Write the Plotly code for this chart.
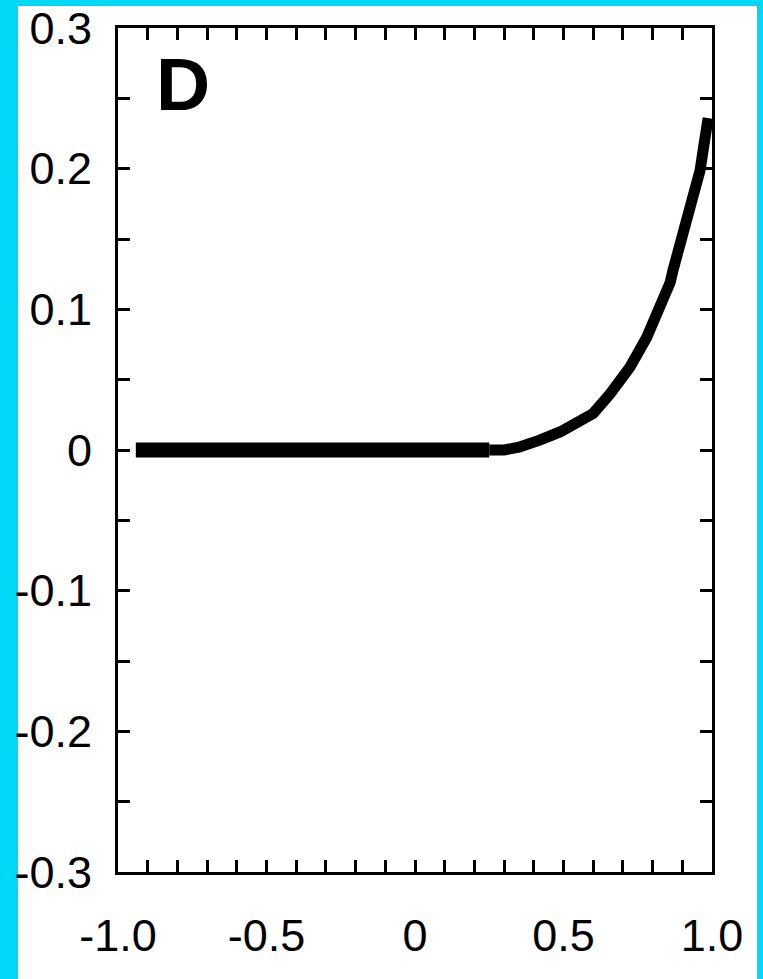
import plotly.graph_objects as go

# Data
flat_x = [-0.94, 0.25]
flat_y = [0.0, 0.0]
curve_x = [0.25, 0.30, 0.35, 0.387, 0.42, 0.49, 0.52, 0.60, 0.657, 0.724, 0.78, 0.825,
           0.859, 0.869, 0.892, 0.916, 0.936, 0.96, 0.97, 0.983, 0.987]
curve_y = [0.0, 0.0, 0.002, 0.0036, 0.007, 0.013, 0.016, 0.026, 0.040, 0.059, 0.080, 0.100,
           0.119, 0.128, 0.146, 0.163, 0.178, 0.199, 0.213, 0.232, 0.236]

x_tickvals = [round(-1.0 + 0.1 * i, 1) for i in range(21)]
x_labels = {-1.0: "-1.0", -0.5: "-0.5", 0.0: "0", 0.5: "0.5", 1.0: "1.0"}
y_tickvals = [round(-0.3 + 0.05 * i, 2) for i in range(13)]
y_labels = {-0.3: "-0.3", -0.2: "-0.2", -0.1: "-0.1", 0.0: "0", 0.1: "0.1", 0.2: "0.2", 0.3: "0.3"}

W, H = 763, 979
L, R, T, B = 118, 51, 28, 107
pw, ph = W - L - R, H - T - B

fig = go.Figure()
fig.add_trace(go.Scatter(x=flat_x, y=flat_y, mode="lines",
                         line=dict(color="black", width=15), showlegend=False))
fig.add_trace(go.Scatter(x=curve_x, y=curve_y, mode="lines",
                         line=dict(color="black", width=11), showlegend=False))

font = dict(family="Liberation Sans, Arial, sans-serif", size=45, color="black")

fig.update_xaxes(range=[-1.0, 1.0], tickvals=x_tickvals,
                 ticktext=[x_labels.get(v, "") for v in x_tickvals],
                 ticks="inside", ticklen=12, tickwidth=3, tickcolor="black",
                 showline=True, linewidth=3, linecolor="black", mirror="ticks",
                 showgrid=False, zeroline=False, tickfont=font, ticklabelstandoff=22,
                 automargin=False)
fig.update_yaxes(range=[-0.3, 0.3], tickvals=y_tickvals,
                 ticktext=[y_labels.get(v, "") for v in y_tickvals],
                 ticks="inside", ticklen=12, tickwidth=3, tickcolor="black",
                 showline=True, linewidth=3, linecolor="black", mirror="ticks",
                 showgrid=False, zeroline=False, tickfont=font, ticklabelstandoff=14,
                 automargin=False)

# white panel over the cyan page
fig.add_shape(type="rect", xref="paper", yref="paper",
              x0=(18 - L) / pw, x1=(757 - L) / pw,
              y0=(H - B - 990) / ph, y1=(H - B - 6) / ph,
              fillcolor="white", line=dict(width=0), layer="below")

fig.add_annotation(text="<b>D</b>", xref="paper", yref="paper",
                   x=(154 - L) / pw, y=(H - B - 84) / ph, xanchor="left", yanchor="middle",
                   showarrow=False, font=dict(family="Liberation Sans, Arial, sans-serif",
                                              size=75, color="black"))

fig.update_layout(width=W, height=H, margin=dict(l=L, r=R, t=T, b=B, autoexpand=False),
                  paper_bgcolor="#00D8F8", plot_bgcolor="rgba(0,0,0,0)")

fig.write_html("out.html")
